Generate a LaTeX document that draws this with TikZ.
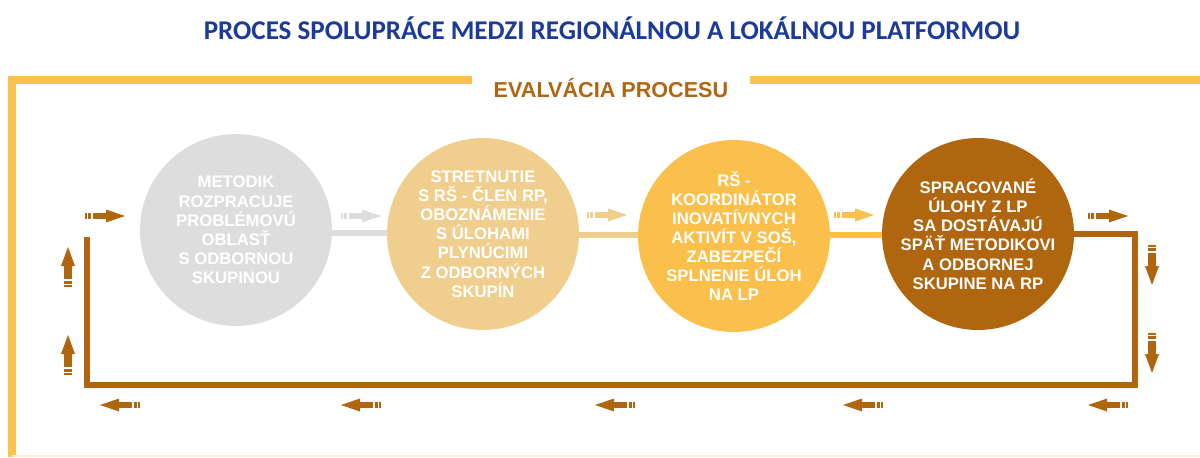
\documentclass[tikz,border=0pt]{standalone}
\usepackage{fontspec}
\setmainfont{Liberation Sans}
\newfontfamily\titlefont{Carlito}
\definecolor{framec}{HTML}{FCC14E}
\definecolor{brownc}{HTML}{B0650F}
\definecolor{grayc}{HTML}{DDDDDD}
\definecolor{tanc}{HTML}{F0CF8E}
\definecolor{yelc}{HTML}{FAC04B}
\definecolor{titlec}{HTML}{1C3A98}
\tikzset{
  stage/.style={circle, minimum size=3.84cm, inner sep=0pt, text=white, align=center,
    font=\fontsize{9.5pt}{10.9pt}\selectfont\bfseries},
  conn/.style={line width=3.4pt},
  loopline/.style={line width=3.4pt, draw=brownc, line join=miter},
  frameline/.style={line width=4.5pt, draw=framec, line join=miter},
  darr/.pic={
    \path[pic actions] (0,-3) rectangle (2,3);
    \path[pic actions] (3,-3) rectangle (6,3);
    \path[pic actions] (8,-3) rectangle (22,3);
    \path[pic actions] (21,-6.5) -- (40,0) -- (21,6.5) -- cycle;
  },
  darrv/.pic={
    \path[pic actions] (0,-4) rectangle (2,4);
    \path[pic actions] (3,-4) rectangle (6,4);
    \path[pic actions] (8,-4) rectangle (22,4);
    \path[pic actions] (21,-7) -- (40,0) -- (21,7) -- cycle;
  }
}
\begin{document}
\begin{tikzpicture}[x=0.02cm,y=-0.02cm]
\useasboundingbox (0,0) rectangle (1200,457);
\fill[white] (0,0) rectangle (1200,457);

% title
\node[font=\titlefont\bfseries\fontsize{15.4pt}{18pt}\selectfont, text=titlec] (title) at (612,28) {PROCES SPOLUPRÁCE MEDZI REGIONÁLNOU A LOKÁLNOU PLATFORMOU};

% frame
\coordinate (fbl) at (12,457);
\coordinate (ftl) at (12,80);
\coordinate (fg1) at (472,80);
\coordinate (fg2) at (750,80);
\coordinate (fr) at (1200,80);
\draw[frameline] (fbl) -- (ftl) -- (fg1);
\draw[frameline] (fg2) -- (fr);
\coordinate (bb1) at (12,456);
\coordinate (bb2) at (1200,456);
\draw[line width=1pt, draw=framec!25] (bb1) -- (bb2);
\node[font=\bfseries\fontsize{12.3pt}{14pt}\selectfont, text=brownc] (label) at (611,88.5) {EVALVÁCIA PROCESU};

% circles
\node[stage, fill=grayc] (c1) at (236,230) {METODIK\\ROZPRACUJE\\PROBLÉMOVÚ\\OBLASŤ\\S ODBORNOU\\SKUPINOU};
\node[stage, fill=tanc] (c2) at (483,234) {STRETNUTIE\\S RŠ - ČLEN RP,\\OBOZNÁMENIE\\S ÚLOHAMI\\PLYNÚCIMI\\Z ODBORNÝCH\\SKUPÍN};
\node[stage, fill=yelc] (c3) at (734,236) {RŠ -\\KOORDINÁTOR\\INOVATÍVNYCH\\AKTIVÍT V SOŠ,\\ZABEZPEČÍ\\SPLNENIE ÚLOH\\NA LP};
\node[stage, fill=brownc] (c4) at (978,234) {SPRACOVANÉ\\ÚLOHY Z LP\\SA DOSTÁVAJÚ\\SPÄŤ METODIKOVI\\A ODBORNEJ\\SKUPINE NA RP};

% connectors
\draw[conn, draw=grayc] (c1.east |- 0,233) -- (c2.west |- 0,233);
\draw[conn, draw=tanc] (c2.east |- 0,235) -- (c3.west |- 0,235);
\draw[conn, draw=yelc] (c3.east |- 0,235) -- (c4.west |- 0,235);

\coordinate (rt) at (1135,234);
\coordinate (rb) at (1135,385);
\coordinate (lb) at (87,385);
\coordinate (lt) at (87,237);
\draw[loopline] (c4.east |- rt) -- (rt) -- (rb) -- (lb) -- (lt);

% small arrows
\pic[fill=brownc] at (85,216) {darr};
\pic[fill=grayc] at (341,216) {darr};
\pic[fill=tanc] at (587,215) {darr};
\pic[fill=yelc] at (834,215) {darr};
\pic[fill=brownc] at (1088,216) {darr};

\pic[fill=brownc, rotate=-90] at (1152,245) {darrv};
\pic[fill=brownc, rotate=-90] at (1152,333) {darrv};

\pic[fill=brownc, rotate=180] at (140,405) {darr};
\pic[fill=brownc, rotate=180] at (381,405) {darr};
\pic[fill=brownc, rotate=180] at (635,405) {darr};
\pic[fill=brownc, rotate=180] at (883,405) {darr};
\pic[fill=brownc, rotate=180] at (1128,405) {darr};

\pic[fill=brownc, rotate=90] at (68,287) {darrv};
\pic[fill=brownc, rotate=90] at (68,375) {darrv};
\end{tikzpicture}
\end{document}
